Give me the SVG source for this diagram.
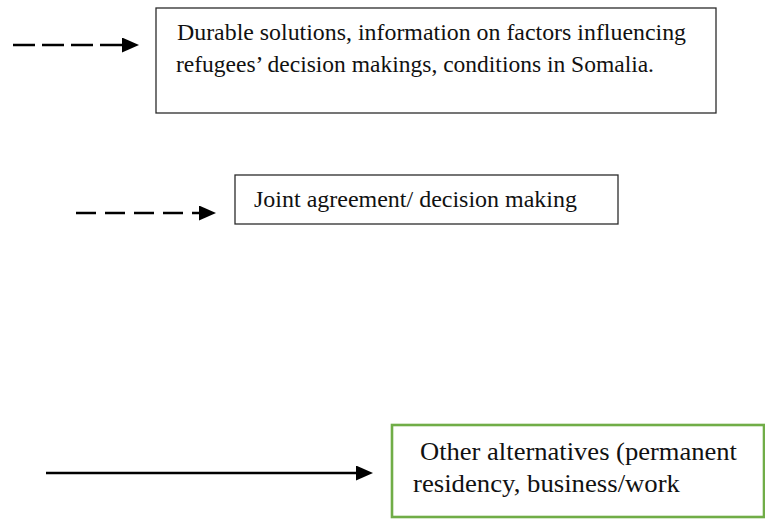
<svg xmlns="http://www.w3.org/2000/svg" width="765" height="519" viewBox="0 0 765 519">
  <style>
    .box { fill: #ffffff; stroke: #2b2b2b; stroke-width: 1.3; }
    .gbox { fill: #ffffff; stroke: #70ad47; stroke-width: 2.6; }
    .txt { font-family: "Liberation Serif", "Times New Roman", serif; font-size: 24px; fill: #111111; }
    .big { font-size: 25px; }
    .conn { stroke: #000000; stroke-width: 2.6; fill: none; }
    .dash1 { stroke-dasharray: 22 7; }
    .dash2 { stroke-dasharray: 20 9; }
  </style>
  <defs>
    <marker id="head" markerUnits="userSpaceOnUse" markerWidth="17" markerHeight="16" refX="0" refY="7.5" orient="auto">
      <path d="M0,0 L17,7.5 L0,15 Z" fill="#000000"/>
    </marker>
  </defs>
  <rect width="765" height="519" fill="#ffffff"/>

  <g id="connectors">
    <path class="conn dash1" d="M13,45 H122" marker-end="url(#head)"/>
    <path class="conn dash2" d="M76,213 H199" marker-end="url(#head)"/>
    <path class="conn" d="M46,473 H356" marker-end="url(#head)"/>
  </g>

  <g id="node-durable">
    <rect class="box" x="156" y="8" width="560" height="105"/>
    <text class="txt" x="177" y="40" textLength="509" lengthAdjust="spacingAndGlyphs">Durable solutions, information on factors influencing</text>
    <text class="txt" x="176" y="72" textLength="478" lengthAdjust="spacingAndGlyphs">refugees’ decision makings, conditions in Somalia.</text>
  </g>

  <g id="node-joint">
    <rect class="box" x="235" y="175" width="383" height="49"/>
    <text class="txt" x="254" y="207" textLength="323" lengthAdjust="spacingAndGlyphs">Joint agreement/ decision making</text>
  </g>

  <g id="node-other">
    <rect class="gbox" x="392" y="425" width="372" height="92"/>
    <text class="txt big" x="420" y="460" textLength="317" lengthAdjust="spacingAndGlyphs">Other alternatives (permanent</text>
    <text class="txt big" x="413" y="492" textLength="267" lengthAdjust="spacingAndGlyphs">residency, business/work</text>
  </g>
</svg>
